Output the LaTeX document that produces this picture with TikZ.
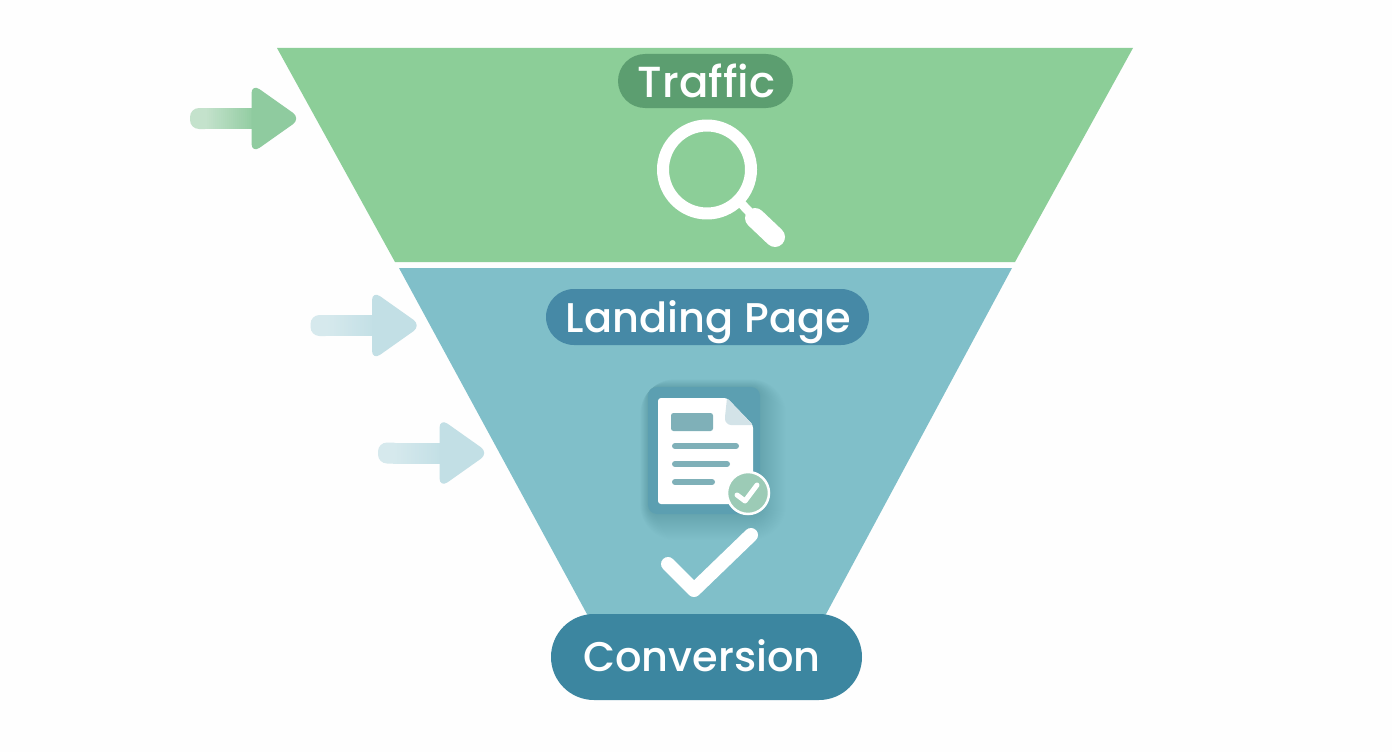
\documentclass[tikz,border=0pt]{standalone}
\usepackage{fontspec}
\setmainfont{Poppins}
\newfontfamily\pillfont{Poppins Medium}
\usetikzlibrary{calc}
\definecolor{bgc}{HTML}{FEFEFE}
\definecolor{greenf}{HTML}{8CCE98}
\definecolor{bluef}{HTML}{80BFC9}
\definecolor{trafficp}{HTML}{5C9E70}
\definecolor{landp}{HTML}{4689A6}
\definecolor{convp}{HTML}{3C86A0}
\definecolor{docbox}{HTML}{5C9FB1}
\definecolor{docline}{HTML}{7FB0B8}
\definecolor{foldc}{HTML}{D3E3E8}
\definecolor{badge}{HTML}{9CCBB6}
\definecolor{arrowg}{HTML}{8FCB9F}
\definecolor{arrowgl}{HTML}{C4E2CC}
\definecolor{arrowb}{HTML}{C2DFE5}
\definecolor{arrowbl}{HTML}{D6E9ED}
\tikzset{
  x=1pt,y=-1pt,
  pilltext/.style={text=white,font=\pillfont\fontsize{41.5}{42}\selectfont,inner sep=0pt,anchor=base},
  white stroke/.style={draw=white,line cap=round,line join=round},
  docbar/.style={draw=docline,line width=6pt,line cap=round},
  arrowshape/.style={rounded corners=10pt}
}
\newcommand{\flowarrow}[4]{%
  % #1 x of tail, #2 y of centre, #3 tail colour, #4 head colour
  \fill[#3,rounded corners=9pt] (#1,#2-10.5) rectangle (#1+24,#2+10.5);
  \foreach \s in {0,...,25}{
    \pgfmathsetmacro{\mixv}{\s*4}
    \fill[#4!\mixv!#3] (#1+15+\s*2,#2-10.5) rectangle (#1+17.5+\s*2,#2+10.5);
  }
  \fill[#4] (#1+65,#2-10.5) rectangle (#1+75,#2+10.5);
  \fill[#4,arrowshape]
    (#1+61.5,#2-35) -- (#1+111,#2) -- (#1+61.5,#2+35) -- cycle;
}
\begin{document}
\begin{tikzpicture}
\useasboundingbox (0,0) rectangle (1392,752);
\fill[bgc] (0,0) rectangle (1392,752);
% funnel
\fill[greenf] (277,48) -- (1133,48) -- (1015,262) -- (395,262) -- cycle;
\fill[bluef] (399,268) -- (1012,268) -- (825,616) -- (588,616) -- cycle;
% side arrows
\flowarrow{190}{118.5}{arrowgl}{arrowg}
\flowarrow{310.5}{325.5}{arrowbl}{arrowb}
\flowarrow{378}{453}{arrowbl}{arrowb}
% Traffic
\node[fill=trafficp,rounded corners=27pt,minimum width=175pt,minimum height=54pt,inner sep=0pt] (trafficpill) at (705.5,81) {};
\node[pilltext,font=\pillfont\fontsize{43.5}{44}\selectfont] (traffic) at (706.5,97) {Traffic};
% magnifier
\coordinate (lenscentre) at (707,169.5);
\coordinate (neckend) at (755,218);
\coordinate (handleend) at (775,237);
\draw[white stroke,line width=12pt] (lenscentre) circle[radius=44];
\draw[white,line width=9pt] (738,200) -- (neckend);
\draw[white stroke,line width=20pt] (neckend) -- (handleend);
% Landing Page
\node[fill=landp,rounded corners=28pt,minimum width=323pt,minimum height=56pt,inner sep=0pt] (landingpill) at (707.5,317) {};
\node[pilltext] (landing) at (708.5,332) {Landing Page};
% document glow
\foreach \g in {1,...,26}{
  \pgfmathsetmacro{\rc}{9+\g}
  \fill[docbox!70!black,opacity=0.009,rounded corners=\rc pt] (648-\g*0.3,387-\g*0.3) rectangle (760+\g,514+\g);
}
\fill[docbox,rounded corners=9pt] (648,387) rectangle (760,514);
\fill[white,rounded corners=3pt] (658,398) -- (727,398) -- (753,425) -- (753,504) -- (658,504) -- cycle;
\fill[foldc,rounded corners=2pt] (727,398) -- (753,425) -- (733,425) .. controls (728,425) and (725,422) .. (725,417) -- cycle;
\fill[docline,rounded corners=2.5pt] (671,413) rectangle (713,431);
\draw[docbar] (675,446) -- (736,446);
\draw[docbar] (675,464) -- (727,464);
\draw[docbar] (675,482) -- (712,482);
\node[circle,fill=badge,draw=white,line width=2.5pt,minimum size=42pt,inner sep=0pt] (badgec) at (748,493) {};
\draw[white stroke,line width=5pt] (737,495) -- (745,501) -- (757,485);
% big check
\draw[white stroke,line width=14pt] (668,564) -- (694,590) -- (751,535);
% Conversion
\node[fill=convp,rounded corners=43pt,minimum width=311pt,minimum height=86pt,inner sep=0pt] (convpill) at (706.5,657) {};
\node[pilltext] (conversion) at (702,671) {Conversion};
\end{tikzpicture}
\end{document}
